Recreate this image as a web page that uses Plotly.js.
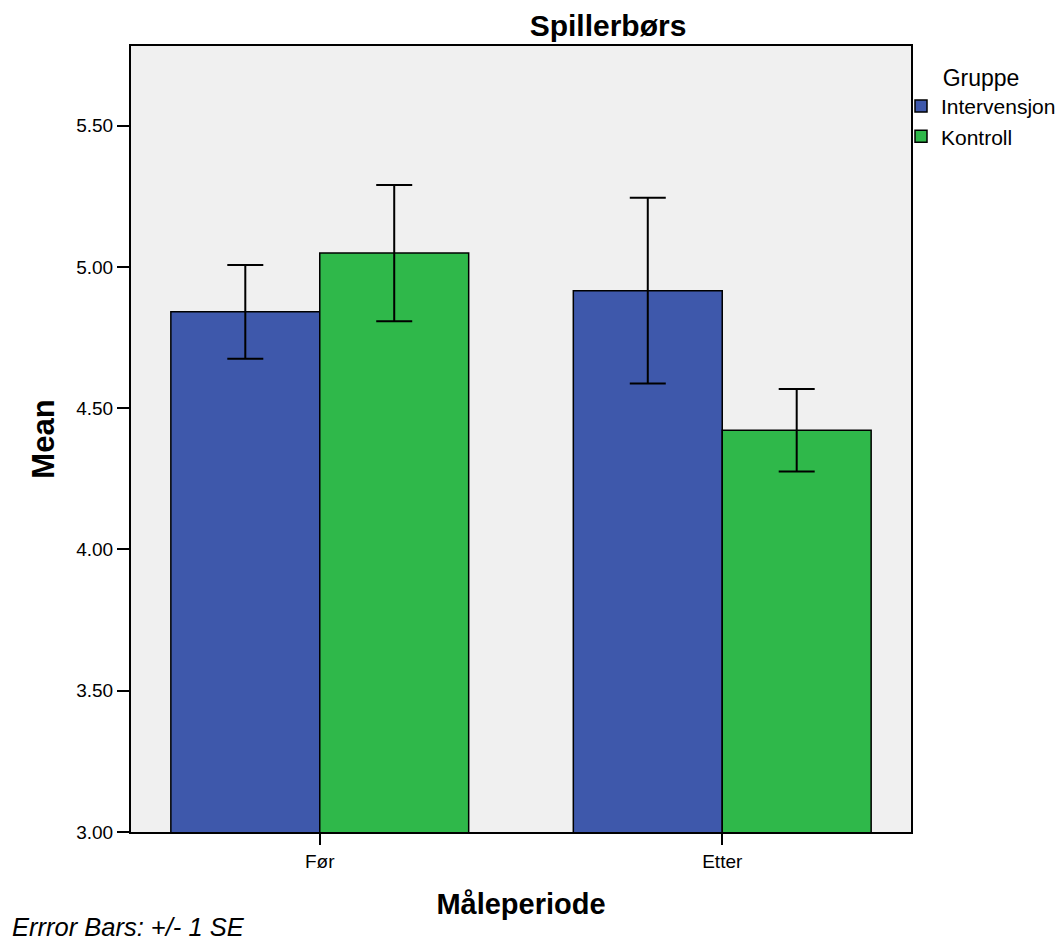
<!DOCTYPE html>
<html>
<head>
<meta charset="utf-8">
<script src="https://cdn.plot.ly/plotly-3.0.1.min.js"></script>
<style>
  html, body { margin: 0; padding: 0; background: #ffffff; }
  #chart { width: 1056px; height: 940px; }
</style>
</head>
<body>
<div id="chart"></div>
<script>
// Measurement periods on the x axis
const periods = ['Før', 'Etter'];

// Group means
const intervensjonMean = [4.841, 4.916];
const kontrollMean = [5.049, 4.422];

// Standard errors (error bars = +/- 1 SE)
const intervensjonSE = [0.166, 0.329];
const kontrollSE = [0.241, 0.146];

// Y axis tick values and labels
const yTicks = [3.0, 3.5, 4.0, 4.5, 5.0, 5.5];
const yTickText = ['3.00', '3.50', '4.00', '4.50', '5.00', '5.50'];

const FONT = 'Liberation Sans, Arial, sans-serif';

function barTrace(name, means, se, color) {
  return {
    type: 'bar',
    name: name,
    x: periods,
    y: means,
    marker: { color: color, line: { color: '#000000', width: 1.5 } },
    error_y: {
      type: 'data',
      array: se,
      visible: true,
      color: '#000000',
      thickness: 2,
      width: 18
    },
    hoverinfo: 'x+y+name'
  };
}

const data = [
  barTrace('Intervensjon', intervensjonMean, intervensjonSE, '#3E58AB'),
  barTrace('Kontroll', kontrollMean, kontrollSE, '#2FB84A')
];

const layout = {
  width: 1056,
  height: 940,
  margin: { l: 131, r: 145, t: 46, b: 108, autoexpand: false },
  paper_bgcolor: '#ffffff',
  plot_bgcolor: '#F0F0F0',
  font: { family: FONT, color: '#000000', size: 19 },
  barmode: 'group',
  bargap: 0.26,
  bargroupgap: 0,
  title: {
    text: 'Spillerbørs',
    font: { family: FONT, size: 30, weight: 'bold', color: '#000000' },
    xref: 'container',
    yref: 'container',
    x: 608 / 1056,
    y: 1 - 25 / 940,
    xanchor: 'center',
    yanchor: 'middle'
  },
  xaxis: {
    type: 'category',
    range: [-0.469, 1.469],
    showline: true,
    linecolor: '#000000',
    linewidth: 2,
    mirror: true,
    ticks: 'outside',
    ticklen: 11,
    tickwidth: 2,
    tickcolor: '#000000',
    showgrid: false,
    zeroline: false,
    tickfont: { family: FONT, size: 19 },
    title: {
      text: 'Måleperiode',
      font: { family: FONT, size: 29, weight: 'bold' },
      standoff: 23
    }
  },
  yaxis: {
    range: [3.0, 5.782],
    tickvals: yTicks,
    ticktext: yTickText,
    showline: true,
    linecolor: '#000000',
    linewidth: 2,
    mirror: true,
    ticks: 'outside',
    ticklen: 12,
    tickwidth: 2,
    tickcolor: '#000000',
    showgrid: false,
    zeroline: false,
    tickfont: { family: FONT, size: 19 },
    title: {
      text: 'Mean',
      font: { family: FONT, size: 31, weight: 'bold' },
      standoff: 12
    }
  },
  legend: {
    title: { text: 'Gruppe', font: { family: FONT, size: 23 }, side: 'top center' },
    font: { family: FONT, size: 21 },
    xref: 'container',
    yref: 'container',
    x: 901 / 1056,
    xanchor: 'left',
    y: 1 - 56 / 940,
    yanchor: 'top',
    bgcolor: 'rgba(0,0,0,0)',
    itemwidth: 30,
    tracegroupgap: 0
  },
  showlegend: true,
  annotations: [
    {
      text: 'Errror Bars: +/- 1 SE',
      font: { family: FONT, size: 25.5, style: 'italic' },
      showarrow: false,
      xref: 'paper',
      yref: 'paper',
      x: (10 - 131) / 780,
      y: (832 - 927) / 786,
      xanchor: 'left',
      yanchor: 'middle'
    }
  ]
};

Plotly.newPlot('chart', data, layout, { displayModeBar: false, responsive: false });
</script>
</body>
</html>
